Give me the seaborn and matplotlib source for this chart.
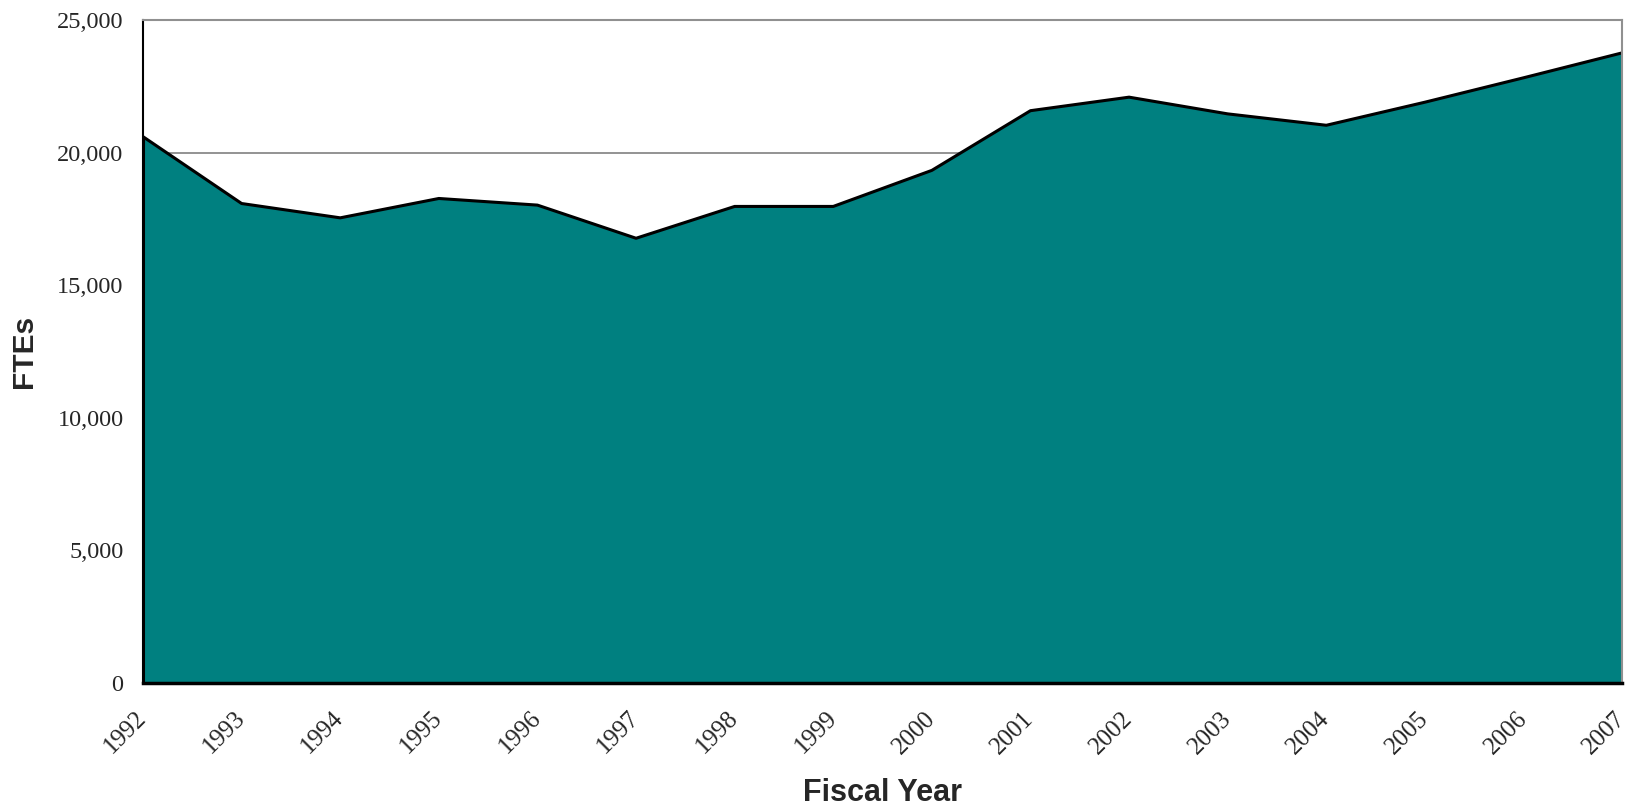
import seaborn as sns
import matplotlib.pyplot as plt
import pandas as pd

# ---------------------------
# Data
# ---------------------------
years = [1992, 1993, 1994, 1995, 1996, 1997, 1998, 1999,
         2000, 2001, 2002, 2003, 2004, 2005, 2006, 2007]
ftes = [20600, 18080, 17540, 18270, 18020, 16770, 17970, 17970,
        19330, 21580, 22090, 21460, 21030, 21900, 22820, 23760]
y_ticks = [0, 5000, 10000, 15000, 20000, 25000]

df = pd.DataFrame({"Year": years, "FTEs": ftes})

# ---------------------------
# Visualization
# ---------------------------
sns.set_style("white")
serif = ["Liberation Serif", "DejaVu Serif"]
sans = ["Liberation Sans", "DejaVu Sans"]

fig = plt.figure(figsize=(16.27, 8.09), dpi=100)
ax = fig.add_axes([0.0879, 0.1557, 0.9091, 0.8196])

# gridlines behind the area
for v in y_ticks[1:]:
    ax.axhline(v, color="#808080", lw=1.2, zorder=0)

ax.fill_between(df["Year"], df["FTEs"], 0, color="#008080", zorder=1)
sns.lineplot(data=df, x="Year", y="FTEs", color="black", lw=2.2, ax=ax, zorder=2)
ax.vlines([years[0], years[-1]], 0, [ftes[0], ftes[-1]], color="black", lw=2.2, zorder=2)

ax.set_xlim(years[0], years[-1])
ax.set_ylim(0, 25000)
ax.set_yticks(y_ticks)
ax.set_yticklabels([f"{v:,}" for v in y_ticks], fontfamily=serif, fontsize=17.5)
ax.set_xticks(years)
ax.set_xticklabels([str(y) for y in years], rotation=45, ha="right", va="center",
                   rotation_mode="anchor", fontfamily=serif, fontsize=18)

ax.tick_params(axis="both", direction="out", length=8, width=1.2, color="#404040")
ax.tick_params(axis="x", pad=15)
ax.tick_params(axis="y", pad=6)

for side in ["top", "right"]:
    ax.spines[side].set_color("#909090")
    ax.spines[side].set_linewidth(1.5)
ax.spines["left"].set_color("black")
ax.spines["left"].set_linewidth(1.5)
ax.spines["bottom"].set_color("black")
ax.spines["bottom"].set_linewidth(2.5)

ax.set_xlabel("Fiscal Year", fontfamily=sans, fontsize=22, fontweight="bold", labelpad=14)
ax.set_ylabel("FTEs", fontfamily=sans, fontsize=21.5, fontweight="bold", labelpad=14)

plt.savefig("out.png", dpi=100)
plt.close()
